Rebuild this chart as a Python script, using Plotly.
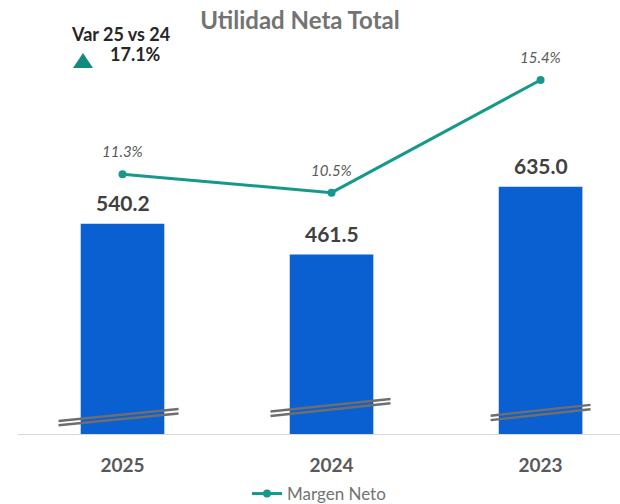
import plotly.graph_objects as go

years = ["2025", "2024", "2023"]
utilidad = [540.2, 461.5, 635.0]
margen = [11.3, 10.5, 15.4]
var_label = "Var 25 vs 24"
var_value = "17.1%"

BAR = "#0A5FD1"
TEAL = "#16998A"
GRAY_TXT = "#595959"
DARK_TXT = "#404040"
FONT = "Lato"

L, T, B = 18, 60, 70
W, H = 620, 504
PW, PH = W - L, H - T - B


def px(xp):
    return (xp - L) / PW


def py(yp):
    return (H - B - yp) / PH


fig = go.Figure()
fig.add_trace(go.Bar(
    x=years, y=utilidad, marker=dict(color=BAR, line=dict(width=0)),
    width=0.4, showlegend=False, hoverinfo="skip"))
fig.add_trace(go.Scatter(
    x=years, y=margen, yaxis="y2", mode="lines+markers", name="Margen Neto",
    line=dict(color=TEAL, width=3), marker=dict(color=TEAL, size=8)))

# bar value labels
for i, yv in enumerate(utilidad):
    fig.add_annotation(x=i, y=yv, xref="x", yref="y", text=f"<b>{yv:.1f}</b>",
                       showarrow=False, yshift=21,
                       font=dict(family=FONT, size=21, color=DARK_TXT))
# line value labels
for i, yv in enumerate(margen):
    fig.add_annotation(x=i, y=yv, xref="x", yref="y2", text=f"<i>{yv:.1f}%</i>",
                       showarrow=False, yshift=23,
                       font=dict(family=FONT, size=15, color=GRAY_TXT))

# variation box
fig.add_annotation(x=px(120), y=py(34), xref="paper", yref="paper", text=f"<b>{var_label}</b>",
                   xanchor="center", yanchor="middle",
                   showarrow=False, font=dict(family=FONT, size=18, color="#262626"))
fig.add_annotation(x=px(135), y=py(54), xref="paper", yref="paper", text=f"<b>{var_value}</b>",
                   xanchor="center", yanchor="middle",
                   showarrow=False, font=dict(family=FONT, size=18, color="#262626"))
fig.add_shape(type="path", xref="paper", yref="paper",
              path=f"M {px(73)} {py(68)} L {px(93)} {py(68)} L {px(83)} {py(53)} Z",
              fillcolor="#148A7E", line=dict(width=0))

# axis break decorations (double slanted lines across each bar)
breaks = [(-0.306, 0.268, 0.029, 0.061), (-0.292, 0.282, 0.054, 0.088), (-0.239, 0.239, 0.043, 0.072)]
gap = 2.2 / PH
for i, (dx0, dx1, y0, y1) in enumerate(breaks):
    for s in (-1, 1):
        fig.add_shape(type="line", xref="x", yref="paper",
                      x0=i + dx0, x1=i + dx1, y0=y0 + s * gap, y1=y1 + s * gap,
                      line=dict(color="#6E6E6E", width=2.5))

fig.update_layout(
    width=W, height=H,
    margin=dict(l=L, r=0, t=T, b=B, autoexpand=False),
    paper_bgcolor="white", plot_bgcolor="white",
    title=dict(text="<b>Utilidad Neta Total</b>", x=300/620, xanchor="center",
               y=1 - 21/504, yanchor="middle", automargin=False,
               font=dict(family=FONT, size=24, color="#737373")),
    xaxis=dict(type="category", range=[-0.5, 2.38], showgrid=False, zeroline=False,
               showline=True, linecolor="#D9D9D9", linewidth=1, ticks="",
               ticklabelstandoff=14, automargin=False,
               tickfont=dict(family=FONT, size=19, color=GRAY_TXT, weight="bold")),
    yaxis=dict(range=[0, 961], visible=False, automargin=False),
    yaxis2=dict(range=[0, 16.27], overlaying="y", visible=False, automargin=False),
    legend=dict(orientation="h", x=0.5, xanchor="center", y=1 - 494/504, yref="container",
                yanchor="middle", font=dict(family=FONT, size=17, color="#737373")),
    bargap=0.6,
)

fig.write_html("out.html", config={"displayModeBar": False})
with open("out.html", encoding="utf-8") as f:
    html = f.read()
html = html.replace("<head>", "<head><style>html,body{margin:0;padding:0;}</style>", 1)
with open("out.html", "w", encoding="utf-8") as f:
    f.write(html)
